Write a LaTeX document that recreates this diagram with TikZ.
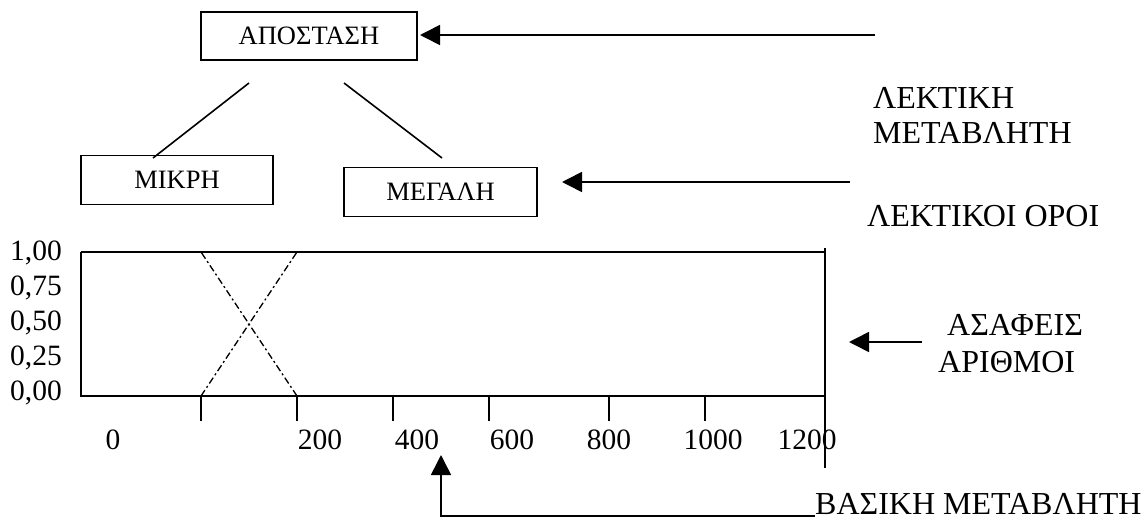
\documentclass[tikz,border=0pt]{standalone}
\usepackage{fontspec}
\setmainfont{Liberation Serif}
\usetikzlibrary{arrows.meta}
\tikzset{
  termbox/.style={draw, line width=1.6pt, inner sep=0pt, font=\fontsize{26.5}{30}\selectfont},
  axislabel/.style={inner sep=0pt, font=\fontsize{29.5}{33}\selectfont},
  sidelabel/.style={inner sep=0pt, anchor=base west, font=\fontsize{32}{36}\selectfont},
  thin line/.style={line width=1.6pt},
  pointer/.style={line width=1.6pt, -{Triangle[length=20pt,width=20pt]}},
  member/.style={line width=1.3pt, dash pattern=on 7pt off 3pt on 2pt off 3pt}
}
\begin{document}
\begin{tikzpicture}[x=1pt, y=-1pt]
\useasboundingbox (0,0) rectangle (1141,519);

% linguistic variable and its terms
\node[termbox, minimum width=216pt, minimum height=48pt] (var) at (309,36) {ΑΠΟΣΤΑΣΗ};
\node[termbox, minimum width=192pt, minimum height=49pt] (small) at (177,180) {ΜΙΚΡΗ};
\node[termbox, minimum width=193pt, minimum height=49pt] (large) at (440.5,192) {ΜΕΓΑΛΗ};

\coordinate (varL) at (249,83);
\coordinate (varR) at (344,83);
\coordinate (smallT) at (153,158);
\coordinate (largeT) at (442,158);
\draw[thin line] (varL) -- (smallT);
\draw[thin line] (varR) -- (largeT);

% membership chart frame
\coordinate (o) at (81,396);
\coordinate (tl) at (81,252);
\coordinate (tr) at (825,252);
\coordinate (br) at (825,396);
\coordinate (rtop) at (825,248);
\coordinate (rbot) at (825,468);
\draw[thin line] (tl) -- (o) -- (br);
\draw[thin line] (tl) -- (tr);
\draw[thin line] (rtop) -- (rbot);

% ticks on the base axis
\foreach \t/\n in {201/a,297/b,393/c,489/d,609/e,705/f}{
  \coordinate (tick\n) at (\t,396);
  \coordinate (tickend\n) at (\t,421);
  \draw[thin line] (tick\n) -- (tickend\n);
}

% membership functions
\coordinate (m1) at (201,252);
\coordinate (m2) at (297,252);
\draw[member] (ticka) -- (m2);
\draw[member] (tickb) -- (m1);

% degree labels
\foreach \v/\y in {{1,00}/253,{0,75}/288,{0,50}/323,{0,25}/358,{0,00}/393}{
  \node[axislabel, anchor=east] at (62,\y) {\v};
}

% base variable values
\foreach \v/\x in {0/113,200/320,400/417,600/512,800/609,1000/713,1200/807}{
  \node[axislabel, anchor=base] at (\x,449) {\v};
}

% captions on the right
\node[sidelabel] (lv1) at (873,108) {ΛΕΚΤΙΚΗ};
\node[sidelabel] (lv2) at (873,143) {ΜΕΤΑΒΛΗΤΗ};
\node[sidelabel] (lt) at (867,226) {ΛΕΚΤΙΚΟΙ ΟΡΟΙ};
\node[sidelabel] (fn1) at (947,335) {ΑΣΑΦΕΙΣ};
\node[sidelabel] (fn2) at (938,372) {ΑΡΙΘΜΟΙ};
\node[sidelabel] (bv) at (815,514) {ΒΑΣΙΚΗ ΜΕΤΑΒΛΗΤΗ};

% pointers
\coordinate (p1) at (875,35);
\coordinate (p1tip) at (420,35);
\draw[pointer] (p1) -- (p1tip);

\coordinate (p2) at (850,182);
\coordinate (p2tip) at (562,182);
\draw[pointer] (p2) -- (p2tip);

\coordinate (p3) at (922,342);
\coordinate (p3tip) at (849,342);
\draw[pointer] (p3) -- (p3tip);

\coordinate (p4) at (815,516);
\coordinate (p4corner) at (441,516);
\coordinate (p4tip) at (441,455);
\draw[pointer] (p4) -- (p4corner) -- (p4tip);
\end{tikzpicture}
\end{document}
